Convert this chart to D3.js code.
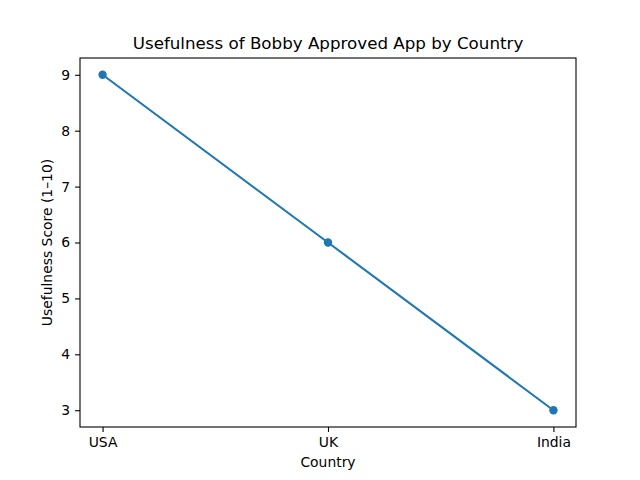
<!DOCTYPE html>
<html><head><meta charset="utf-8">
<script src="https://cdn.jsdelivr.net/npm/d3@7"></script>
<style>body{margin:0;background:#fff}text{font-family:"DejaVu Sans",sans-serif;fill:#000}</style>
</head><body><div id="chart"></div>
<script>
// data
var countries = ["USA", "UK", "India"];
var scores = [9, 6, 3];
var yTicks = [3, 4, 5, 6, 7, 8, 9];

var width = 640, height = 480;
var margin = {top: 58, right: 64, bottom: 53, left: 80};
var iw = width - margin.left - margin.right, ih = height - margin.top - margin.bottom;

var svg = d3.select("#chart").append("svg").attr("width", width).attr("height", height);
var g = svg.append("g").attr("transform", `translate(${margin.left},${margin.top})`);

var x = d3.scalePoint().domain(countries).range([iw * 0.0455, iw * 0.9545]);
var y = d3.scaleLinear().domain([2.7, 9.3]).range([ih, 0]);

var xAxis = g.append("g").attr("transform", `translate(0,${ih})`)
  .call(d3.axisBottom(x).tickSizeOuter(0).tickSize(4.9).tickPadding(4.9));
var yAxis = g.append("g").call(d3.axisLeft(y).tickValues(yTicks).tickFormat(d3.format("d")).tickSizeOuter(0).tickSize(4.9).tickPadding(4.9));
[xAxis, yAxis].forEach(a => {
  a.select(".domain").remove();
  a.selectAll("text").style("font-size", "13.9px").style("font-family", "DejaVu Sans");
  a.selectAll("line").attr("stroke", "#000").attr("stroke-width", 1.1);
});

g.append("rect").attr("width", iw).attr("height", ih).attr("fill", "none").attr("stroke", "#000").attr("stroke-width", 1.1);

var data = countries.map((c, i) => ({c: c, v: scores[i]}));
g.append("path").datum(data).attr("fill", "none").attr("stroke", "#1f77b4").attr("stroke-width", 2.08)
  .attr("d", d3.line().x(d => x(d.c)).y(d => y(d.v)));
g.selectAll("circle").data(data).enter().append("circle")
  .attr("cx", d => x(d.c)).attr("cy", d => y(d.v)).attr("r", 4.2).attr("fill", "#1f77b4");

svg.append("text").attr("x", margin.left + iw / 2).attr("y", 49).attr("text-anchor", "middle")
  .style("font-size", "16.7px").text("Usefulness of Bobby Approved App by Country");
svg.append("text").attr("x", margin.left + iw / 2).attr("y", 467).attr("text-anchor", "middle")
  .style("font-size", "13.9px").text("Country");
svg.append("text").attr("transform", `translate(52,${margin.top + ih / 2}) rotate(-90)`).attr("text-anchor", "middle")
  .style("font-size", "13.9px").text("Usefulness Score (1–10)");
</script></body></html>
